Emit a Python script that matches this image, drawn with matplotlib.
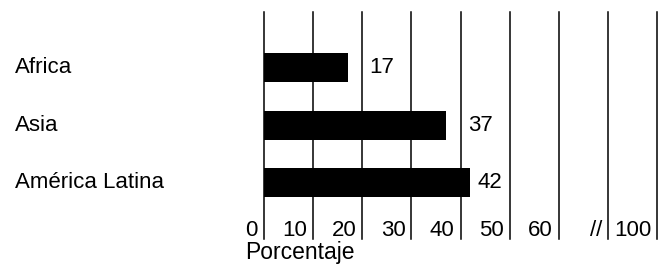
import matplotlib.pyplot as plt
from matplotlib.transforms import offset_copy, blended_transform_factory

regions = ['Africa', 'Asia', 'América Latina']
pcts = [17, 37, 42]
tick_pos = [0, 10, 20, 30, 40, 50, 60, 70, 80]
tick_labels = ['0', '10', '20', '30', '40', '50', '60', '//', '100']

plt.rcParams['font.family'] = ['Liberation Sans', 'DejaVu Sans']
plt.rcParams['font.size'] = 16

W, H = 671, 273
fig = plt.figure(figsize=(W / 100, H / 100), dpi=100)
# axes spans the grid lines: x 264..657 px, y 12..239 px
ax = fig.add_axes([264 / W, (H - 239) / H, (657 - 264) / W, (239 - 12) / H])
ax.set_xlim(0, 80)
ax.set_ylim(2.98, -0.97)
ax.axis('off')

for x in tick_pos:
    ax.axvline(x, color='black', lw=1.1, clip_on=False)

ypos = list(range(len(regions)))
ax.barh(ypos, pcts, height=0.5, color='black', zorder=3)

# value label sits just right of the bar, or past a grid line that is too close
for y, v in zip(ypos, pcts):
    lx = v + 1.5
    near = [g for g in tick_pos if v < g < v + 5]
    if near:
        lx = near[0] + 1.5
    ax.text(lx, y, str(v), va='center', ha='left', fontsize=16)

trans = blended_transform_factory(fig.transFigure, ax.transData)
for y, name in zip(ypos, regions):
    ax.text(15 / W, y, name, transform=trans, va='center', ha='left', fontsize=16)

tb = blended_transform_factory(ax.transData, fig.transFigure)
tb = offset_copy(tb, fig=fig, x=-6, y=0, units='dots')
for x, lab in zip(tick_pos, tick_labels):
    ax.text(x, (H - 231) / H, lab, transform=tb, ha='right', va='center', fontsize=16)

fig.text(245 / W, (H - 252) / H, 'Porcentaje', ha='left', va='center', fontsize=16.5)

fig.savefig('out.png', dpi=100, facecolor='white')
